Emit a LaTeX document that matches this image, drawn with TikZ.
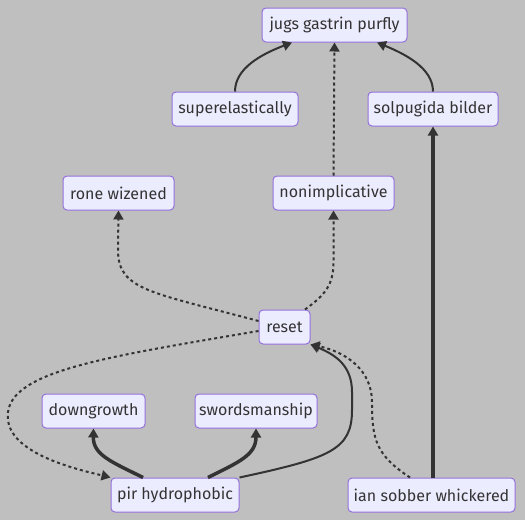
\documentclass[tikz,border=0pt]{standalone}
\usepackage{fontspec}
\setmainfont{Fira Sans}
\usetikzlibrary{arrows.meta}
\definecolor{bg}{HTML}{BFBFBF}
\definecolor{nodefill}{HTML}{ECECFF}
\definecolor{nodeborder}{HTML}{9370DB}
\definecolor{ink}{HTML}{333333}
\tikzset{
  box/.style={draw=nodeborder, fill=nodefill, rounded corners=4pt, line width=1pt,
    text=ink, font=\fontsize{16}{18}\selectfont, inner sep=0pt, minimum height=34pt},
  edge/.style={draw=ink, line width=2pt, -{Triangle[length=9pt,width=10pt]}},
  thickedge/.style={edge, line width=3.5pt},
  dotedge/.style={edge, dash pattern=on 3pt off 3pt},
}
\begin{document}
\begin{tikzpicture}[x=1pt,y=-1pt]
\fill[bg] (0,0) rectangle (525,520);
\useasboundingbox (0,0) rectangle (525,520);
\node[box, minimum width=145pt] (jugs) at (334.5,25) {jugs gastrin purfly};
\node[box, minimum width=126pt] (super) at (235,109) {superelastically};
\node[box, minimum width=130pt] (solp) at (433,109) {solpugida bilder};
\node[box, minimum width=111pt] (rone) at (118.5,193) {rone wizened};
\node[box, minimum width=121pt] (nonimp) at (333.5,193) {nonimplicative};
\node[box, minimum width=51pt] (reset) at (284.5,327) {reset};
\node[box, minimum width=103pt] (down) at (93.5,411) {downgrowth};
\node[box, minimum width=122pt] (sword) at (256,411) {swordsmanship};
\node[box, minimum width=128pt] (pir) at (175,495) {pir hydrophobic};
\node[box, minimum width=167pt] (ian) at (431.5,495) {ian sobber whickered};

\draw[edge] (super.north) .. controls (235,68) and (262,54) .. (jugs.south -| 292,0);
\draw[dotedge] (nonimp.north) -- (jugs.south);
\draw[edge] (solp.north) .. controls (433,68) and (405,54) .. (jugs.south -| 377,0);
\draw[thickedge] (ian.north -| solp.south) -- (solp.south);
\draw[dotedge] (reset.west |- 0,321) .. controls (150,292) and (118,290) .. (118,250) -- (rone.south);
\draw[dotedge] (reset.north -| 305,0) .. controls (325,295) and (333.5,285) .. (333.5,262) -- (nonimp.south);
\draw[dotedge] (reset.west |- 0,331) .. controls (100,358) and (2,372) .. (8,420) .. controls (12,455) and (80,470) .. (pir.north west);
\draw[thickedge] (pir.north -| 143,0) .. controls (112,462) and (93,455) .. (down.south);
\draw[thickedge] (pir.north -| 208,0) .. controls (239,462) and (256,455) .. (sword.south);
\draw[edge] (pir.north east) .. controls (330,458) and (352,450) .. (352,410) -- (352,392) .. controls (352,366) and (336,355) .. (reset.south east);
\draw[dotedge] (ian.north -| 410,0) .. controls (376,455) and (372,440) .. (372,402) .. controls (372,370) and (346,352) .. (reset.south east);
\end{tikzpicture}
\end{document}
